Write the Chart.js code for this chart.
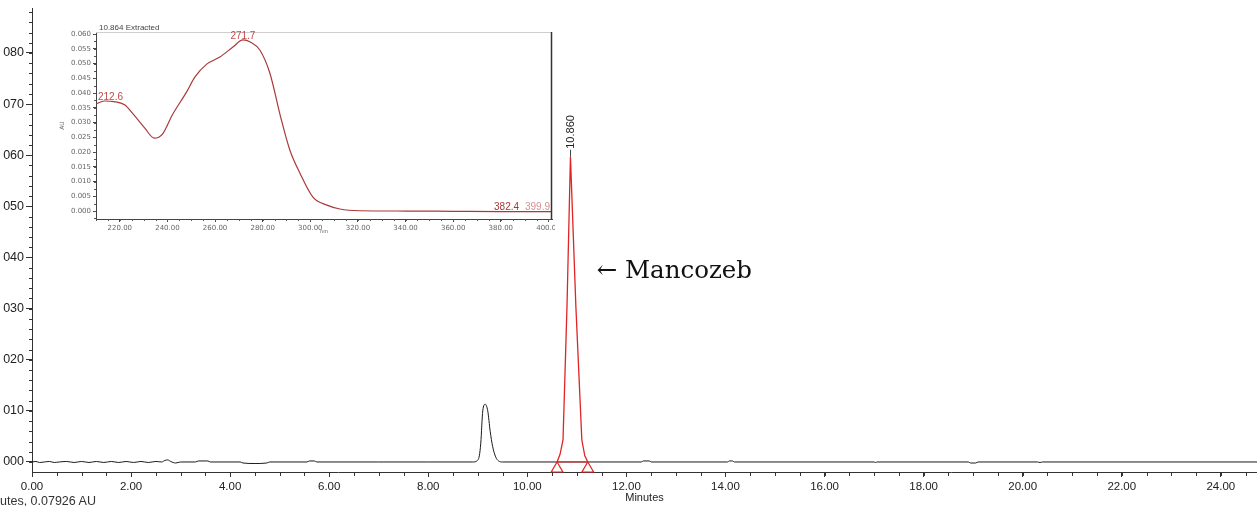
<!DOCTYPE html>
<html>
<head>
<meta charset="utf-8">
<script src="https://cdn.jsdelivr.net/npm/chart.js@4.4.0/dist/chart.umd.min.js"></script>
<style>
  html, body { margin: 0; padding: 0; background: #fff; }
  #wrap { position: relative; width: 1257px; height: 506px; overflow: hidden; }
  #main-chart { position: absolute; left: 0; top: 0; }
  #inset-chart { position: absolute; left: 56px; top: 18px; }
  #foot { position: absolute; left: 0; top: 494px; font: 12.5px "Liberation Sans", Arial, sans-serif; color: #333; white-space: nowrap; }
</style>
</head>
<body>
<div id="wrap">
  <canvas id="main-chart" width="1257" height="506"></canvas>
  <canvas id="inset-chart" width="499" height="220"></canvas>
  <div id="foot">utes, 0.07926 AU</div>
</div>
<script>
// chromatogram, black trace (minutes / AU)
const traceTime = [0.00, 0.08, 0.15, 0.25, 0.35, 0.45, 0.55, 0.70, 0.85, 1.00, 1.15, 1.30, 1.45, 1.60, 1.75, 1.90, 2.05, 2.20, 2.35, 2.50,
  2.62, 2.68, 2.74, 2.80, 2.90, 3.00, 3.30, 3.36, 3.55, 3.60, 4.20, 4.26, 4.50, 4.74, 4.80, 5.55, 5.60, 5.70, 5.75, 7.00, 8.00,
  8.90, 8.98, 9.03, 9.06, 9.10, 9.15, 9.20, 9.25, 9.30, 9.36, 9.42, 9.50,
  10.60, 11.22, 12.30, 12.34, 12.46, 12.50, 14.04, 14.08, 14.14, 14.18, 17.00, 17.03, 17.06, 18.90, 18.95, 19.05, 19.10,
  20.30, 20.35, 20.40, 24.73];
const traceAbs = [0.0000, 0.0001, -0.0001, 0.0000, 0.0001, -0.0001, 0.0000, 0.0001, -0.0001, 0.0001, -0.0001, 0.0001, -0.0001, 0.0001, -0.0001, 0.0001, -0.0001, 0.0001, -0.0001, 0.0001,
  0.0000, 0.0003, 0.0004, 0.0001, -0.0002, 0.0000, 0.0000, 0.0002, 0.0002, 0.0000, 0.0000, -0.0002, -0.0003, -0.0002, 0.0000, 0.0000, 0.0002, 0.0002, 0.0000, 0.0000, 0.0000,
  0.0000, 0.0002, 0.0012, 0.0037, 0.0100, 0.0113, 0.0100, 0.0060, 0.0030, 0.0010, 0.0002, 0.0000,
  0.0000, 0.0000, 0.0000, 0.0002, 0.0002, 0.0000, 0.0000, 0.0002, 0.0002, 0.0000, 0.0000, -0.0001, 0.0000, 0.0000, -0.0002, -0.0002, 0.0000,
  0.0000, -0.0001, 0.0000, 0.0000];

// Mancozeb peak, red
const peakTime = [10.60, 10.66, 10.72, 10.80, 10.87, 10.98, 11.10, 11.16, 11.22];
const peakAbs = [0.0000, 0.0015, 0.0043, 0.0303, 0.0597, 0.0303, 0.0043, 0.0012, 0.0000];
const peakBounds = [10.60, 11.22];
const boundMarkAbs = [-0.0013, -0.0013];
const peakLabel = '10.860';
const peakLabelTime = 10.86;
const peakLabelAbs = 0.0597;
const compoundName = '← Mancozeb';
const compoundTime = 11.40;
const compoundAbs = 0.0372;

// axis ticks of the chromatogram
const timeTicks = [0, 2, 4, 6, 8, 10, 12, 14, 16, 18, 20, 22, 24];
const absTicks = [0, 0.01, 0.02, 0.03, 0.04, 0.05, 0.06, 0.07, 0.08];

// UV spectrum inset (nm / AU)
const insetTitle = '10.864 Extracted';
const specNm = [210, 213.5, 217.5, 222, 226, 230.5, 234.5, 238, 242, 248, 251.5, 256.5, 262, 267.5, 271.7, 275, 278.8, 283,
  287.5, 291.4, 295.6, 301.1, 307, 312.4, 320.8, 340, 360, 380, 401.5];
const specAu = [0.0363, 0.0373, 0.0371, 0.0360, 0.0325, 0.0281, 0.0247, 0.0262, 0.0325, 0.0403, 0.0454, 0.0498, 0.0522, 0.0556, 0.0580, 0.0572, 0.0546, 0.0468,
  0.0320, 0.0207, 0.0129, 0.0047, 0.0020, 0.0007, 0.0001, 0.0000, -0.0001, -0.0002, -0.0002];
const specLabels = ['212.6', '271.7', '382.4', '399.9'];
const specLabelNm = [212.6, 271.7, 382.4, 399.9];
const specLabelAu = [0.0373, 0.0580, -0.0002, -0.0002];
const specLabelColor = ['#c04848', '#c04848', '#a83838', '#d89090'];
const nmTicks = [220, 240, 260, 280, 300, 320, 340, 360, 380, 400];
const auTicks = [0, 0.005, 0.010, 0.015, 0.020, 0.025, 0.030, 0.035, 0.040, 0.045, 0.050, 0.055, 0.060];

const toXY = (xs, ys) => xs.map((x, i) => ({ x: x, y: ys[i] }));
const fixTicks = values => s => { s.ticks = values.map(v => ({ value: v })); };

const minorTicks = {
  id: 'minorTicks',
  afterDraw(chart, args, opts) {
    const { ctx, scales: { x, y } } = chart;
    ctx.save();
    ctx.strokeStyle = opts.color;
    ctx.lineWidth = 1;
    ctx.beginPath();
    for (let v = Math.ceil(x.min / opts.xStep) * opts.xStep; v <= x.max + 1e-9; v += opts.xStep) {
      const px = Math.round(x.getPixelForValue(v)) + 0.5;
      ctx.moveTo(px, x.top);
      ctx.lineTo(px, x.top + opts.xLen);
    }
    for (let v = Math.ceil(y.min / opts.yStep) * opts.yStep; v <= y.max + 1e-9; v += opts.yStep) {
      const py = Math.round(y.getPixelForValue(v)) + 0.5;
      ctx.moveTo(y.right, py);
      ctx.lineTo(y.right - opts.yLen, py);
    }
    ctx.stroke();
    ctx.restore();
  }
};

const peakNotes = {
  id: 'peakNotes',
  afterDatasetsDraw(chart) {
    const { ctx, scales: { x, y } } = chart;
    const px = Math.round(x.getPixelForValue(peakLabelTime)) + 0.5;
    const py = y.getPixelForValue(peakLabelAbs);
    ctx.save();
    ctx.strokeStyle = '#444';
    ctx.lineWidth = 1;
    ctx.beginPath();
    ctx.moveTo(px, py);
    ctx.lineTo(px, py - 7);
    ctx.stroke();
    ctx.translate(px, py - 8);
    ctx.rotate(-Math.PI / 2);
    ctx.font = '11px "Liberation Sans"';
    ctx.fillStyle = '#222';
    ctx.textAlign = 'left';
    ctx.textBaseline = 'middle';
    ctx.fillText(peakLabel, 0, 0);
    ctx.restore();

    ctx.save();
    ctx.font = '24.5px "DejaVu Serif"';
    ctx.fillStyle = '#111';
    ctx.textAlign = 'left';
    ctx.textBaseline = 'middle';
    ctx.fillText(compoundName, x.getPixelForValue(compoundTime), y.getPixelForValue(compoundAbs));
    ctx.restore();
  }
};

const insetNotes = {
  id: 'insetNotes',
  afterDraw(chart) {
    const { ctx, chartArea: { left, right, top, bottom }, scales: { x, y } } = chart;
    ctx.save();
    ctx.lineWidth = 1;
    ctx.strokeStyle = '#cfcfcf';
    ctx.beginPath();
    ctx.moveTo(left, top + 0.5);
    ctx.lineTo(right, top + 0.5);
    ctx.stroke();
    ctx.strokeStyle = '#333';
    ctx.lineWidth = 1.5;
    ctx.beginPath();
    ctx.moveTo(right - 0.5, top);
    ctx.lineTo(right - 0.5, bottom);
    ctx.stroke();

    ctx.font = '8px "Liberation Sans"';
    ctx.fillStyle = '#444';
    ctx.textAlign = 'left';
    ctx.textBaseline = 'middle';
    ctx.fillText(insetTitle, left + 3, top - 4);

    ctx.font = '10px "Liberation Sans"';
    ctx.textAlign = 'center';
    specLabels.forEach((t, i) => {
      const w = ctx.measureText(t).width;
      let px = x.getPixelForValue(specLabelNm[i]);
      px = Math.min(Math.max(px, left + w / 2 + 2), right - w / 2 - 2);
      ctx.fillStyle = specLabelColor[i];
      ctx.fillText(t, px, y.getPixelForValue(specLabelAu[i]) - 4);
    });
    ctx.restore();
  }
};

const mainChart = new Chart(document.querySelector('#main-chart'), {
  type: 'line',
  data: {
    datasets: [
      { data: toXY(peakBounds, boundMarkAbs), showLine: false, pointStyle: 'triangle', pointRadius: 6.7,
        borderColor: '#e02424', borderWidth: 1.2, backgroundColor: '#fff', clip: false },
      { data: toXY(peakTime, peakAbs), borderColor: '#e02424', borderWidth: 1.3, pointRadius: 0, tension: 0 },
      { data: toXY(peakBounds, [0, 0]), borderColor: '#e02424', borderWidth: 1, pointRadius: 0 },
      { data: toXY(traceTime, traceAbs), borderColor: '#1a1a1a', borderWidth: 1, pointRadius: 0, cubicInterpolationMode: 'monotone' }
    ]
  },
  options: {
    responsive: false,
    animation: false,
    devicePixelRatio: 1,
    layout: { autoPadding: false, padding: { top: 8, right: 0, left: 0, bottom: 0 } },
    plugins: {
      legend: { display: false },
      tooltip: { enabled: false },
      minorTicks: { color: '#333', xStep: 0.5, xLen: 4, yStep: 0.002, yLen: 3 }
    },
    scales: {
      x: {
        type: 'linear', min: 0, max: 24.73,
        border: { color: '#333', width: 1 },
        grid: { drawOnChartArea: false, tickLength: 5, color: '#333' },
        afterBuildTicks: fixTicks(timeTicks),
        ticks: {
          autoSkip: false, maxRotation: 0, minRotation: 0, padding: 3, color: '#222',
          font: { family: 'Liberation Sans', size: 11.5 },
          callback: v => v.toFixed(2)
        },
        title: { display: true, text: 'Minutes', color: '#222', font: { family: 'Liberation Sans', size: 11 }, padding: { top: 0, bottom: 1 } },
        afterFit: s => { s.height = 34; s.paddingLeft = 0; s.paddingRight = 0; }
      },
      y: {
        type: 'linear', min: -0.00196, max: 0.0888,
        border: { color: '#333', width: 1 },
        grid: { drawOnChartArea: false, tickLength: 6, color: '#333' },
        afterBuildTicks: fixTicks(absTicks),
        ticks: {
          autoSkip: false, padding: 2, color: '#222',
          font: { family: 'Liberation Sans', size: 12.5 },
          callback: v => v.toFixed(3).slice(2)
        },
        afterFit: s => { s.width = 32; s.paddingTop = 0; s.paddingBottom = 0; }
      }
    }
  },
  plugins: [minorTicks, peakNotes]
});

const insetChart = new Chart(document.querySelector('#inset-chart'), {
  type: 'line',
  data: {
    datasets: [
      { data: toXY(specNm, specAu), borderColor: '#a83a3a', borderWidth: 1.2, pointRadius: 0, cubicInterpolationMode: 'monotone' }
    ]
  },
  options: {
    responsive: false,
    animation: false,
    devicePixelRatio: 1,
    layout: { autoPadding: false, padding: { top: 14, right: 3, left: 0, bottom: 0 } },
    plugins: {
      legend: { display: false },
      tooltip: { enabled: false },
      minorTicks: { color: '#555', xStep: 5, xLen: 2, yStep: 0.0025, yLen: 2 }
    },
    scales: {
      x: {
        type: 'linear', min: 210, max: 401.5,
        border: { color: '#444', width: 1 },
        grid: { drawOnChartArea: false, tickLength: 3, color: '#444' },
        afterBuildTicks: fixTicks(nmTicks),
        ticks: {
          autoSkip: false, maxRotation: 0, minRotation: 0, padding: 2, color: '#666',
          font: { family: 'DejaVu Sans', size: 7 },
          callback: v => v.toFixed(2)
        },
        title: { display: true, text: 'nm', color: '#666', font: { family: 'DejaVu Sans', size: 5 }, padding: { top: 0, bottom: 3 } },
        afterFit: s => { s.height = 19; s.paddingLeft = 0; s.paddingRight = 0; }
      },
      y: {
        type: 'linear', min: -0.0027, max: 0.0607,
        border: { color: '#444', width: 1 },
        grid: { drawOnChartArea: false, tickLength: 3, color: '#444' },
        afterBuildTicks: fixTicks(auTicks),
        ticks: {
          autoSkip: false, padding: 2, color: '#666',
          font: { family: 'DejaVu Sans', size: 7 },
          callback: v => v.toFixed(3)
        },
        title: { display: true, text: 'AU', color: '#666', font: { family: 'DejaVu Sans', size: 6 }, padding: { top: 3, bottom: 0 } },
        afterFit: s => { s.width = 40; s.paddingTop = 0; s.paddingBottom = 0; }
      }
    }
  },
  plugins: [minorTicks, insetNotes]
});
</script>
</body>
</html>
